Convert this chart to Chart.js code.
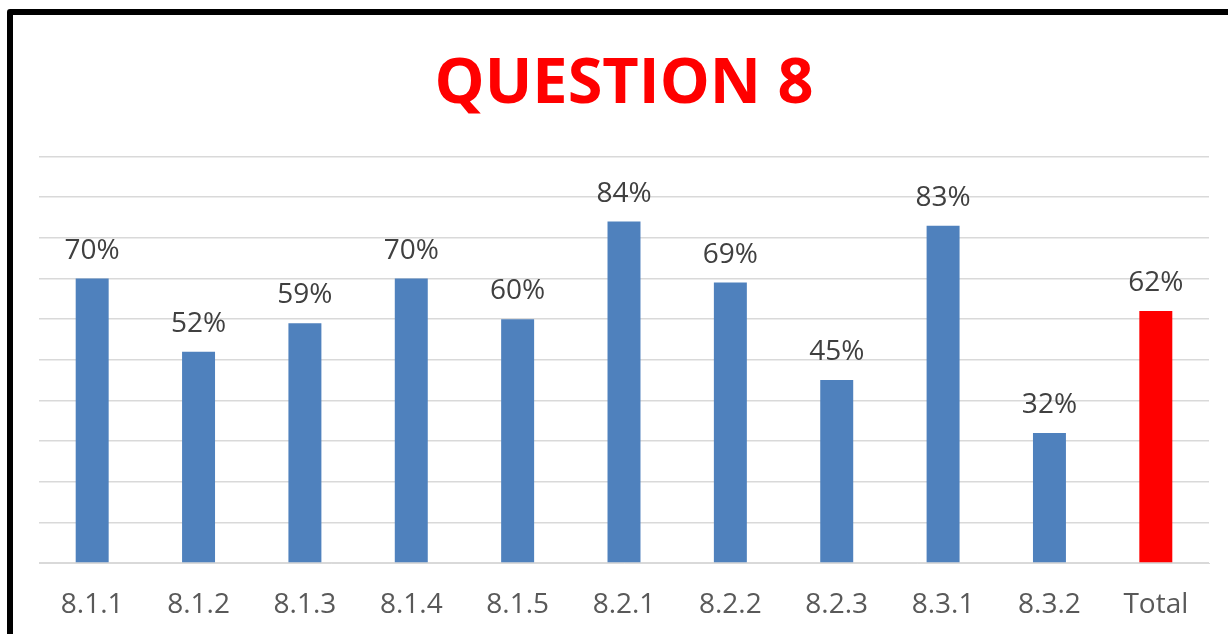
<!DOCTYPE html>
<html>
<head>
<meta charset="utf-8">
<script src="https://cdn.jsdelivr.net/npm/chart.js@4.4.1/dist/chart.umd.min.js"></script>
<style>
  html,body{margin:0;padding:0;background:#fff;overflow:hidden;}
  #wrap{position:relative;width:1228px;height:634px;}
  canvas{position:absolute;left:0;top:0;}
  #frame{position:absolute;left:7px;top:9px;width:1400px;height:800px;border:6px solid #000;border-radius:3px;pointer-events:none;}
</style>
</head>
<body>
<div id="wrap">
  <canvas id="c" width="1228" height="634"></canvas>
  <div id="frame"></div>
</div>
<script>
const categories = ["8.1.1","8.1.2","8.1.3","8.1.4","8.1.5","8.2.1","8.2.2","8.2.3","8.3.1","8.3.2","Total"];
const values = [70, 52, 59, 70, 60, 84, 69, 45, 83, 32, 62];
const barColors = ["#4F81BD","#4F81BD","#4F81BD","#4F81BD","#4F81BD","#4F81BD","#4F81BD","#4F81BD","#4F81BD","#4F81BD","#FF0000"];
const titleText = "QUESTION 8";

const valueLabels = {
  id: 'valueLabels',
  afterDatasetsDraw(chart) {
    const ctx = chart.ctx;
    const meta = chart.getDatasetMeta(0);
    ctx.save();
    ctx.font = '28px "Open Sans"';
    ctx.fillStyle = '#404040';
    ctx.textAlign = 'center';
    ctx.textBaseline = 'alphabetic';
    meta.data.forEach((bar, i) => {
      ctx.fillText(values[i] + '%', bar.x, bar.y - 20);
    });
    ctx.restore();
  }
};

new Chart(document.getElementById('c'), {
  type: 'bar',
  data: {
    labels: categories,
    datasets: [{
      data: values,
      backgroundColor: barColors,
      borderWidth: 0,
      barPercentage: 0.31,
      categoryPercentage: 1.0
    }]
  },
  options: {
    responsive: false,
    animation: false,
    layout: { padding: { left: 39, right: 19, top: 22, bottom: 0 } },
    plugins: {
      legend: { display: false },
      tooltip: { enabled: false },
      title: {
        display: true,
        text: titleText,
        color: '#FF0000',
        font: { family: 'Open Sans', size: 63, weight: 'bold', lineHeight: 1.2 },
        padding: { top: 25, bottom: 34 }
      }
    },
    scales: {
      x: {
        afterFit(scale) { scale.height = 71; },
        grid: { display: false, drawTicks: false },
        border: { display: true, color: '#D9D9D9', width: 1 },
        ticks: { color: '#595959', font: { family: 'Open Sans', size: 28, lineHeight: 1.2 }, padding: 25, maxRotation: 0, autoSkip: false }
      },
      y: {
        min: 0, max: 100,
        ticks: { display: false, stepSize: 10 },
        grid: { color: '#D9D9D9', lineWidth: 1.5, drawTicks: false },
        border: { display: false }
      }
    }
  },
  plugins: [valueLabels]
});
</script>
</body>
</html>
